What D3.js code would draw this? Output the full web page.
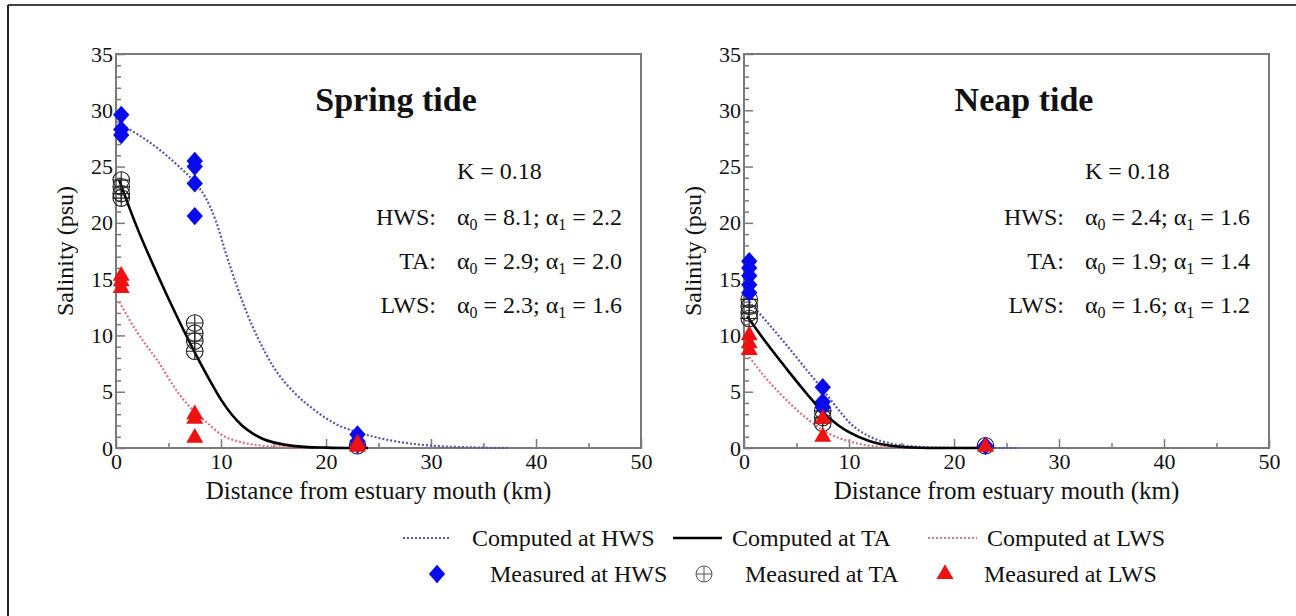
<!DOCTYPE html>
<html>
<head>
<meta charset="utf-8">
<script src="https://cdn.jsdelivr.net/npm/d3@7/dist/d3.min.js"></script>
<style>
  html, body { margin: 0; padding: 0; background: #fff; }
  svg { display: block; }
  svg text { font-family: "Liberation Serif", "DejaVu Serif", serif !important; fill: #111; }
</style>
</head>
<body>
<svg id="chart" width="1296" height="616"></svg>
<script>
// ---------------- DATA ----------------
const xTickValues = [0, 10, 20, 30, 40, 50];
const yTickValues = [0, 5, 10, 15, 20, 25, 30, 35];
const panelTitles = ["Spring tide", "Neap tide"];
const kLabel = "K = 0.18";
const paramLabels = ["HWS:", "TA:", "LWS:"];
const springParams = [["8.1", "2.2"], ["2.9", "2.0"], ["2.3", "1.6"]];
const neapParams = [["2.4", "1.6"], ["1.9", "1.4"], ["1.6", "1.2"]];
const legendLabels = ["Computed at HWS", "Computed at TA", "Computed at LWS",
                      "Measured at HWS", "Measured at TA", "Measured at LWS"];

// Spring tide – computed curves [distance km, salinity psu]
const springHWSdist = [0.3, 2, 4, 6, 7.5, 8.5, 9.5, 10.5, 11.5, 12.5, 13.5, 15, 17, 19, 21, 23, 25, 28, 31, 34, 37.5];
const springHWSsal  = [28.8, 27.9, 26.6, 25.0, 23.6, 22.3, 20.2, 17.2, 14.4, 11.9, 9.8, 7.2, 4.9, 3.3, 2.1, 1.4, 0.9, 0.4, 0.15, 0.05, 0];
const springTAdist  = [0.3, 2, 4, 6, 7.5, 9, 10, 11, 12, 13, 14, 15, 16, 18, 20, 22, 24];
const springTAsal   = [23.8, 19.6, 15.3, 11.3, 8.5, 5.9, 4.3, 3.0, 2.0, 1.3, 0.8, 0.5, 0.3, 0.1, 0.03, 0, 0];
const springLWSdist = [0.3, 2, 4, 6, 7.5, 8.5, 10, 12, 14, 17, 20, 23];
const springLWSsal  = [13.0, 10.3, 7.7, 4.8, 3.2, 2.4, 1.2, 0.5, 0.2, 0.05, 0, 0];

// Spring tide – measured points [distance, salinity]
const springMeasHWS = [[0.5, 29.6], [0.5, 28.3], [0.5, 27.8], [7.5, 25.5], [7.5, 25.0], [7.5, 23.5], [7.5, 20.6], [23, 1.2], [23, 0.6], [23, 0.3]];
const springMeasTA  = [[0.5, 23.8], [0.5, 23.2], [0.5, 22.6], [0.5, 22.2], [7.5, 11.1], [7.5, 10.2], [7.5, 9.5], [7.5, 8.6], [23, 0.2]];
const springMeasLWS = [[0.5, 15.3], [0.5, 14.8], [0.5, 14.2], [7.5, 3.0], [7.5, 2.6], [7.5, 0.9], [23, 0.4], [23, 0.1]];

// Neap tide – computed curves
const neapHWSdist = [0.5, 2, 4, 6, 7.5, 9, 10, 12, 14, 16, 18, 20, 23, 26];
const neapHWSsal  = [13.0, 11.4, 9.2, 6.9, 5.2, 3.4, 2.3, 1.0, 0.4, 0.15, 0.05, 0.02, 0, 0];
const neapTAdist  = [0.3, 2, 4, 6, 7.5, 9, 10, 12, 14, 16, 19, 23];
const neapTAsal   = [11.7, 9.5, 7.1, 4.8, 3.2, 2.0, 1.4, 0.6, 0.2, 0.05, 0, 0];
const neapLWSdist = [0.5, 2, 4, 6, 7.5, 9, 10, 12, 15, 20];
const neapLWSsal  = [8.1, 6.3, 4.3, 2.6, 1.6, 0.9, 0.6, 0.2, 0.03, 0];

// Neap tide – measured points
const neapMeasHWS = [[0.5, 16.6], [0.5, 16.0], [0.5, 15.3], [0.5, 14.5], [0.5, 13.8], [7.5, 5.4], [7.5, 4.1], [7.5, 3.6], [23, 0.2]];
const neapMeasTA  = [[0.5, 13.2], [0.5, 12.6], [0.5, 12.0], [0.5, 11.5], [7.5, 3.3], [7.5, 2.7], [7.5, 2.2], [23, 0.2]];
const neapMeasLWS = [[0.5, 10.0], [0.5, 9.3], [0.5, 8.7], [7.5, 2.6], [7.5, 1.0], [23, 0.1]];

// ---------------- STYLE ----------------
const FONT = "Liberation Serif";
const BLUE = "#0a0aee";
const RED = "#ee1111";
const HWS_LINE = "#5656a8";
const LWS_LINE = "#d27585";
const AXIS = "#7a7a7a";

const svg = d3.select("#chart");

// outer frame
svg.append("line").attr("x1", 8).attr("x2", 1296).attr("y1", 5).attr("y2", 5)
  .attr("stroke", "#444").attr("stroke-width", 2);
svg.append("line").attr("x1", 8).attr("x2", 8).attr("y1", 5).attr("y2", 616)
  .attr("stroke", "#222").attr("stroke-width", 2);

const diamondSym = {
  draw(ctx, size) {
    const rx = Math.sqrt(size) / 2 * 1.1, ry = rx * 1.12;
    ctx.moveTo(0, -ry); ctx.lineTo(rx, 0); ctx.lineTo(0, ry); ctx.lineTo(-rx, 0); ctx.closePath();
  }
};

function zip(xs, ys) { return xs.map((x, i) => [x, ys[i]]); }

function txt(sel) { return sel.style("font-family", FONT); }

function drawPanel(opt) {
  const x = d3.scaleLinear().domain([0, 50]).range([opt.left, opt.left + 525]);
  const y = d3.scaleLinear().domain([0, 35]).range([448, 54]);
  const g = svg.append("g");

  // minor ticks
  const yMinor = d3.range(0, 36).filter(v => v % 5 !== 0);
  const xMinor = [5, 15, 25, 35, 45];
  g.append("g").attr("transform", `translate(${opt.left},0)`)
    .call(d3.axisLeft(y).tickValues(yMinor).tickSize(-5).tickFormat(""))
    .call(a => a.select(".domain").remove())
    .call(a => a.selectAll("line").attr("stroke", AXIS).attr("stroke-width", 1.5));
  g.append("g").attr("transform", `translate(0,448)`)
    .call(d3.axisBottom(x).tickValues(xMinor).tickSize(-5).tickFormat(""))
    .call(a => a.select(".domain").remove())
    .call(a => a.selectAll("line").attr("stroke", AXIS).attr("stroke-width", 1.5));

  // major axes
  const yAx = g.append("g").attr("transform", `translate(${opt.left},0)`)
    .call(d3.axisLeft(y).tickValues(yTickValues).tickSize(-9).tickPadding(3).tickFormat(d3.format("d")));
  yAx.attr("font-family", FONT);
  yAx.select(".domain").remove();
  yAx.selectAll("line").attr("stroke", AXIS).attr("stroke-width", 1.5);
  txt(yAx.selectAll("text")).attr("font-size", 22).attr("fill", "#111");

  const xAx = g.append("g").attr("transform", `translate(0,448)`)
    .call(d3.axisBottom(x).tickValues(xTickValues).tickSize(-9).tickPadding(5).tickFormat(d3.format("d")));
  xAx.attr("font-family", FONT);
  xAx.select(".domain").remove();
  xAx.selectAll("line").attr("stroke", AXIS).attr("stroke-width", 1.5);
  txt(xAx.selectAll("text")).attr("font-size", 22).attr("fill", "#111");

  // frame box
  g.append("rect").attr("x", x(0)).attr("y", y(35)).attr("width", x(50) - x(0)).attr("height", y(0) - y(35))
    .attr("fill", "none").attr("stroke", AXIS).attr("stroke-width", 2);

  // axis titles
  txt(g.append("text")).attr("transform", `translate(${opt.left - 43},${y(17.5)}) rotate(-90)`)
    .attr("text-anchor", "middle").attr("font-size", 24).text("Salinity (psu)");
  txt(g.append("text")).attr("x", (x(0) + x(50)) / 2).attr("y", 499)
    .attr("text-anchor", "middle").attr("font-size", 25).text("Distance from estuary mouth (km)");

  // panel title
  txt(g.append("text")).attr("x", opt.left + 280).attr("y", 111)
    .attr("text-anchor", "middle").attr("font-size", 34).attr("font-weight", "bold").text(opt.title);

  // parameter annotations
  const ax0 = opt.left + 341;
  txt(g.append("text")).attr("x", ax0).attr("y", 179).attr("font-size", 24).text(kLabel);
  const rowsY = [225, 269, 313];
  opt.params.forEach((p, i) => {
    txt(g.append("text")).attr("x", ax0 - 21).attr("y", rowsY[i]).attr("text-anchor", "end")
      .attr("font-size", 24).text(paramLabels[i]);
    const t = txt(g.append("text")).attr("x", ax0).attr("y", rowsY[i]).attr("font-size", 24);
    t.append("tspan").text("α");
    t.append("tspan").attr("font-size", 16).attr("dy", 5).text("0");
    t.append("tspan").attr("dy", -5).text(" = " + p[0] + "; α");
    t.append("tspan").attr("font-size", 16).attr("dy", 5).text("1");
    t.append("tspan").attr("dy", -5).text(" = " + p[1]);
  });

  const line = d3.line().x(d => x(d[0])).y(d => y(d[1])).curve(d3.curveMonotoneX);

  // computed curves
  g.append("path").datum(opt.lws).attr("d", line).attr("fill", "none")
    .attr("stroke", LWS_LINE).attr("stroke-width", 2.2).attr("stroke-dasharray", "2,2");
  g.append("path").datum(opt.hws).attr("d", line).attr("fill", "none")
    .attr("stroke", HWS_LINE).attr("stroke-width", 2.2).attr("stroke-dasharray", "2,2");
  g.append("path").datum(opt.ta).attr("d", line).attr("fill", "none")
    .attr("stroke", "#000").attr("stroke-width", 2.6);

  // measured TA (circle with cross)
  const ta = g.append("g").selectAll("g").data(opt.measTA).join("g")
    .attr("transform", d => `translate(${x(d[0])},${y(d[1])})`);
  ta.append("circle").attr("r", 8.3).attr("fill", "none").attr("stroke", "#222").attr("stroke-width", 1.1);
  ta.append("path").attr("d", "M-8.3,0H8.3M0,-8.3V8.3").attr("stroke", "#222").attr("stroke-width", 1.1);

  // measured HWS (diamonds)
  g.append("g").selectAll("path").data(opt.measHWS).join("path")
    .attr("transform", d => `translate(${x(d[0])},${y(d[1])})`)
    .attr("d", d3.symbol(diamondSym, 220)).attr("fill", BLUE);

  // measured LWS (triangles)
  g.append("g").selectAll("path").data(opt.measLWS).join("path")
    .attr("transform", d => `translate(${x(d[0])},${y(d[1])})`)
    .attr("d", d3.symbol(d3.symbolTriangle, 125)).attr("fill", RED);
}

drawPanel({
  left: 116, title: panelTitles[0], params: springParams,
  hws: zip(springHWSdist, springHWSsal), ta: zip(springTAdist, springTAsal), lws: zip(springLWSdist, springLWSsal),
  measHWS: springMeasHWS, measTA: springMeasTA, measLWS: springMeasLWS
});
drawPanel({
  left: 744, title: panelTitles[1], params: neapParams,
  hws: zip(neapHWSdist, neapHWSsal), ta: zip(neapTAdist, neapTAsal), lws: zip(neapLWSdist, neapLWSsal),
  measHWS: neapMeasHWS, measTA: neapMeasTA, measLWS: neapMeasLWS
});

// clip at right edge (as in source image)
svg.append("rect").attr("x", 1280).attr("y", 20).attr("width", 16).attr("height", 596).attr("fill", "#fff");

// ---------------- LEGEND ----------------
const lg = svg.append("g");
const row1 = 538, row2 = 574;
const legendLines = [
  { x1: 403, x2: 451, stroke: HWS_LINE, dash: "2,2", w: 2, tx: 472 },
  { x1: 673, x2: 722, stroke: "#000", dash: null, w: 2.6, tx: 732 },
  { x1: 928, x2: 977, stroke: LWS_LINE, dash: "2,2", w: 2, tx: 987 }
];
legendLines.forEach((l, i) => {
  lg.append("line").attr("x1", l.x1).attr("x2", l.x2).attr("y1", row1).attr("y2", row1)
    .attr("stroke", l.stroke).attr("stroke-width", l.w).attr("stroke-dasharray", l.dash);
  txt(lg.append("text")).attr("x", l.tx).attr("y", row1 + 8).attr("font-size", 24).text(legendLabels[i]);
});
const mk = [437, 704, 945];
const mtx = [490, 745, 984];
lg.append("path").attr("transform", `translate(${mk[0]},${row2})`).attr("d", d3.symbol(diamondSym, 220)).attr("fill", BLUE);
const tg = lg.append("g").attr("transform", `translate(${mk[1]},${row2})`);
tg.append("circle").attr("r", 8).attr("fill", "none").attr("stroke", "#555").attr("stroke-width", 1);
tg.append("path").attr("d", "M-8,0H8M0,-8V8").attr("stroke", "#555").attr("stroke-width", 1);
lg.append("path").attr("transform", `translate(${mk[2]},${row2})`).attr("d", d3.symbol(d3.symbolTriangle, 125)).attr("fill", RED);
[3, 4, 5].forEach((k, i) => {
  txt(lg.append("text")).attr("x", mtx[i]).attr("y", row2 + 8).attr("font-size", 24).text(legendLabels[k]);
});
</script>
</body>
</html>
